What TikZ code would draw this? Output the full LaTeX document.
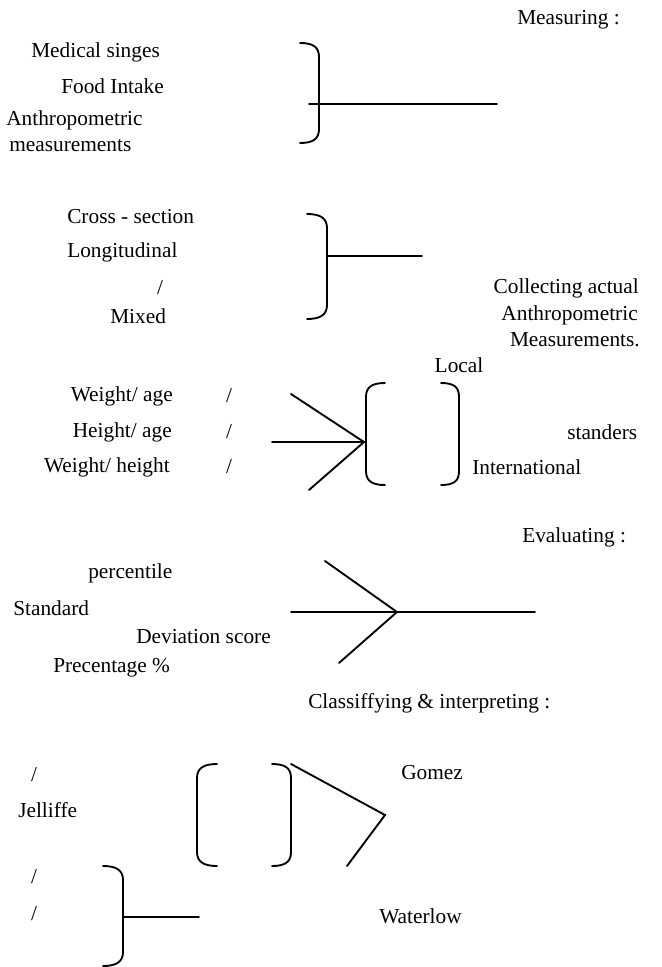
\documentclass[tikz,border=0pt]{standalone}
\usepackage{fontspec}
\setmainfont{Liberation Serif}
\usepackage{tikz}
\usetikzlibrary{positioning,calc}

\tikzset{
  txt/.style={inner sep=0pt, font=\fontsize{16}{19}\selectfont},
  stroke/.style={line width=1.4pt, line cap=round}
}

\begin{document}
\begin{tikzpicture}[x=0.75pt, y=-0.75pt]
        \useasboundingbox (0,0) rectangle (661,967);
        % Measuring
        \node[txt, anchor=west] (measuring) at (517,20) {Measuring :};
        \node[txt, anchor=west] (medsigns) at (31,52) {Medical singes};
        \node[txt, anchor=west] (food) at (61,86) {Food Intake};
        \node[txt, anchor=west] (anthro) at (6,120) {Anthropometric};
        \node[txt, anchor=west] (anthrob) at (9,146) {measurements};
        \draw[stroke] (300,43) .. controls (313,43) and (319,47) .. (319,57) -- (319,129) .. controls (319,139) and (313,143) .. (300,143);
        \coordinate (mjoin) at (309,104);
        \coordinate (mend) at (497,104);
        \draw[stroke] (mjoin) -- (mend);
        % study design
        \node[txt, anchor=west] (cross) at (67,217) {Cross - section};
        \node[txt, anchor=west] (longi) at (67,252) {Longitudinal};
        \node[txt] (slasha) at (160,288) {/};
        \node[txt, anchor=west] (mixed) at (110,316) {Mixed};
        \draw[stroke] (307,214) .. controls (320,214) and (327,218) .. (327,228) -- (327,305) .. controls (327,315) and (320,319) .. (307,319);
        \coordinate (djoin) at (327,256);
        \coordinate (dend) at (422,256);
        \draw[stroke] (djoin) -- (dend);
        \node[txt, anchor=east] (collect) at (639,288) {Collecting actual};
        \node[txt, anchor=east] (collectb) at (638,315) {Anthropometric};
        \node[txt, anchor=east] (collectc) at (640,340) {Measurements.};
        % indices
        \node[txt] (local) at (459,365) {Local};
        \node[txt, anchor=east] (wa) at (173,396) {Weight/ age};
        \node[txt, anchor=east] (ha) at (172,432) {Height/ age};
        \node[txt, anchor=east] (wh) at (170,467) {Weight/ height};
        \node[txt] (slashb) at (229,396) {/};
        \node[txt] (slashc) at (229,432) {/};
        \node[txt] (slashd) at (229,467) {/};
        \coordinate (ijoin) at (364,442);
        \draw[stroke] (291,394) -- (ijoin);
        \draw[stroke] (272,442) -- (ijoin);
        \draw[stroke] (309,490) -- (ijoin);
        \draw[stroke] (385,383) .. controls (372,383) and (366,387) .. (366,397) -- (366,471) .. controls (366,481) and (372,485) .. (385,485);
        \draw[stroke] (441,383) .. controls (454,383) and (459,387) .. (459,397) -- (459,471) .. controls (459,481) and (454,485) .. (441,485);
        \node[txt, anchor=west] (standers) at (567,432) {standers};
        \node[txt, anchor=west] (inter) at (472,467) {International};
        % Evaluating
        \node[txt, anchor=west] (evaluating) at (522,537) {Evaluating :};
        \node[txt, anchor=west] (percentile) at (88,573) {percentile};
        \node[txt, anchor=west] (standard) at (13,608) {Standard};
        \node[txt, anchor=west] (deviation) at (136,637) {Deviation score};
        \node[txt, anchor=west] (percent) at (53,668) {Precentage \%};
        \coordinate (ejoin) at (397,612);
        \draw[stroke] (325,561) -- (ejoin);
        \draw[stroke] (291,612) -- (535,612);
        \draw[stroke] (339,663) -- (ejoin);
        \node[txt, anchor=west] (classify) at (308,703) {Classiffying \& interpreting :};
        % Classifying
        \node[txt] (slashe) at (34,775) {/};
        \node[txt, anchor=west] (jelliffe) at (18,810) {Jelliffe};
        \draw[stroke] (217,764) .. controls (204,764) and (197,768) .. (197,778) -- (197,852) .. controls (197,862) and (204,866) .. (217,866);
        \draw[stroke] (272,764) .. controls (285,764) and (291,768) .. (291,778) -- (291,852) .. controls (291,862) and (285,866) .. (272,866);
        \coordinate (gjoin) at (385,815);
        \draw[stroke] (291,764) -- (gjoin) -- (347,866);
        \node[txt, anchor=west] (gomez) at (401,773) {Gomez};
        \node[txt] (slashf) at (34,877) {/};
        \node[txt] (slashg) at (34,914) {/};
        \draw[stroke] (103,866) .. controls (116,866) and (123,870) .. (123,880) -- (123,952) .. controls (123,962) and (116,966) .. (103,966);
        \coordinate (wjoin) at (123,917);
        \coordinate (wend) at (199,917);
        \draw[stroke] (wjoin) -- (wend);
        \node[txt, anchor=west] (waterlow) at (379,916) {Waterlow};
    \end{tikzpicture}
\end{document}
